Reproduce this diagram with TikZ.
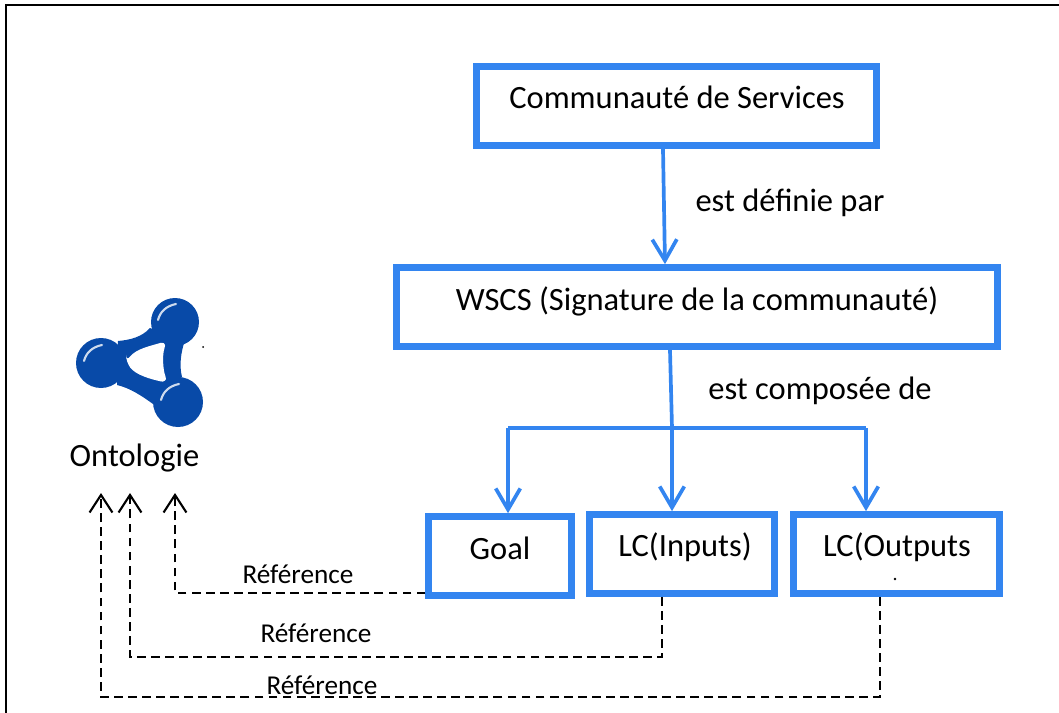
\documentclass[tikz,border=0pt]{standalone}
\usepackage{fontspec}
\setmainfont{Carlito}
\usetikzlibrary{arrows.meta}
\definecolor{boxblue}{RGB}{51,133,240}
\definecolor{ballblue}{RGB}{8,74,168}
\tikzset{
    boxnode/.style={draw=boxblue, line width=3.8pt, fill=white, minimum height=1.58cm, inner sep=0pt},
    linknode/.style={font=\fontsize{18.5}{21}\selectfont, inner sep=0pt},
    refnode/.style={font=\fontsize{15.5}{18}\selectfont, inner sep=0pt},
    composeline/.style={draw=boxblue, line width=2.1pt},
    composearrow/.style={composeline, -{Straight Barb[length=12pt, width=14pt, line width=2.1pt]}},
    refarrow/.style={black, line width=1.2pt, dash pattern=on 5pt off 3pt, -{Straight Barb[length=10pt, width=13pt, line width=1.2pt]}}
}
\newcommand{\ball}[3]{\fill[ballblue] ( #1 , #2 ) circle ( #3 );}
\newcommand{\shine}[2]{\draw[white!80!ballblue, line width=1.2pt, line cap=round] ( #1 - 17 , #2 - 2 ) .. controls ( #1 - 15 , #2 - 10 ) and ( #1 - 9 , #2 - 16 ) .. ( #1 + 1 , #2 - 18 );}
\begin{document}
\begin{tikzpicture}[x=0.02cm, y=-0.02cm]
        \useasboundingbox (0,0) rectangle (1059,713);
        % frame
        \draw[black, line width=1.4pt] (6,713) -- (6,5) -- (1059,5);
        % boxes
        \node[boxnode, minimum width=8cm] (comm) at (676.5,106) {};
        \node[boxnode, minimum width=12.03cm] (wscs) at (697,307) {};
        \node[boxnode, minimum width=2.85cm] (goal) at (500,556) {};
        \node[boxnode, minimum width=3.7cm] (inputs) at (682,554) {};
        \node[boxnode, minimum width=4.12cm] (outputs) at (896.5,554) {};
        % box texts
        \node[linknode] (commtext) at (677,97) {Communauté de Services};
        \node[linknode] (wscstext) at (697,301) {WSCS (Signature de la communauté)};
        \node[linknode] (goaltext) at (500,548) {Goal};
        \node[linknode] (inputstext) at (685,547) {LC(Inputs)};
        \node[linknode] (outputstext) at (897,547) {LC(Outputs};
        \fill[black] (895,579) circle (1.3);
        % blue links
        \coordinate (fork) at (672,428);
        \coordinate (forkgoal) at (508,428);
        \coordinate (forkout) at (866,428);
        \draw[composearrow] (comm.south -| 663,0) -- (wscs.north -| 665,0);
        \draw[composeline] (wscs.south -| 670,0) -- (fork);
        \draw[composeline] (forkgoal) -- (forkout);
        \draw[composearrow] (forkgoal) -- (goal.north -| forkgoal);
        \draw[composearrow] (fork) -- (inputs.north -| fork);
        \draw[composearrow] (forkout) -- (outputs.north -| forkout);
        \node[linknode] (defined) at (790,203) {est définie par};
        \node[linknode] (composed) at (820,391) {est composée de};
        % ontology icon
        \fill[ballblue] (150,328) .. controls (142,337) and (130,340) .. (118,341) -- (117,385) .. controls (130,388) and (142,396) .. (153,404) -- (182,377) .. controls (179,365) and (181,352) .. (185,340) -- cycle;
        \fill[white, rounded corners=4pt] (126,362) .. controls (136,349) and (150,346) .. (167,341) .. controls (162,355) and (163,370) .. (168,383) .. controls (150,379) and (136,375) .. cycle;
        \ball{175}{322}{24}
        \ball{101}{363}{25}
        \ball{178}{402}{25}
        \shine{175}{322}
        \shine{101}{363}
        \shine{178}{402}
        \node[linknode] (onto) at (134.5,458) {Ontologie};
        \fill[black] (203,347) circle (1);
        % dashed references
        \coordinate (topgoal) at (175,493);
        \coordinate (topin) at (130,493);
        \coordinate (topout) at (101,493);
        \draw[refarrow] (goal.west |- 0,593) -- (175,593) -- (topgoal);
        \draw[refarrow] (inputs.south -| 662,0) -- (662,657) -- (130,657) -- (topin);
        \draw[refarrow] (outputs.south -| 880,0) -- (880,697) -- (101,697) -- (topout);
        \node[refnode] (refgoal) at (298,574) {Référence};
        \node[refnode] (refin) at (316,633) {Référence};
        \node[refnode, fill=white, inner xsep=1pt] (refout) at (322,685) {Référence};
    \end{tikzpicture}
\end{document}
